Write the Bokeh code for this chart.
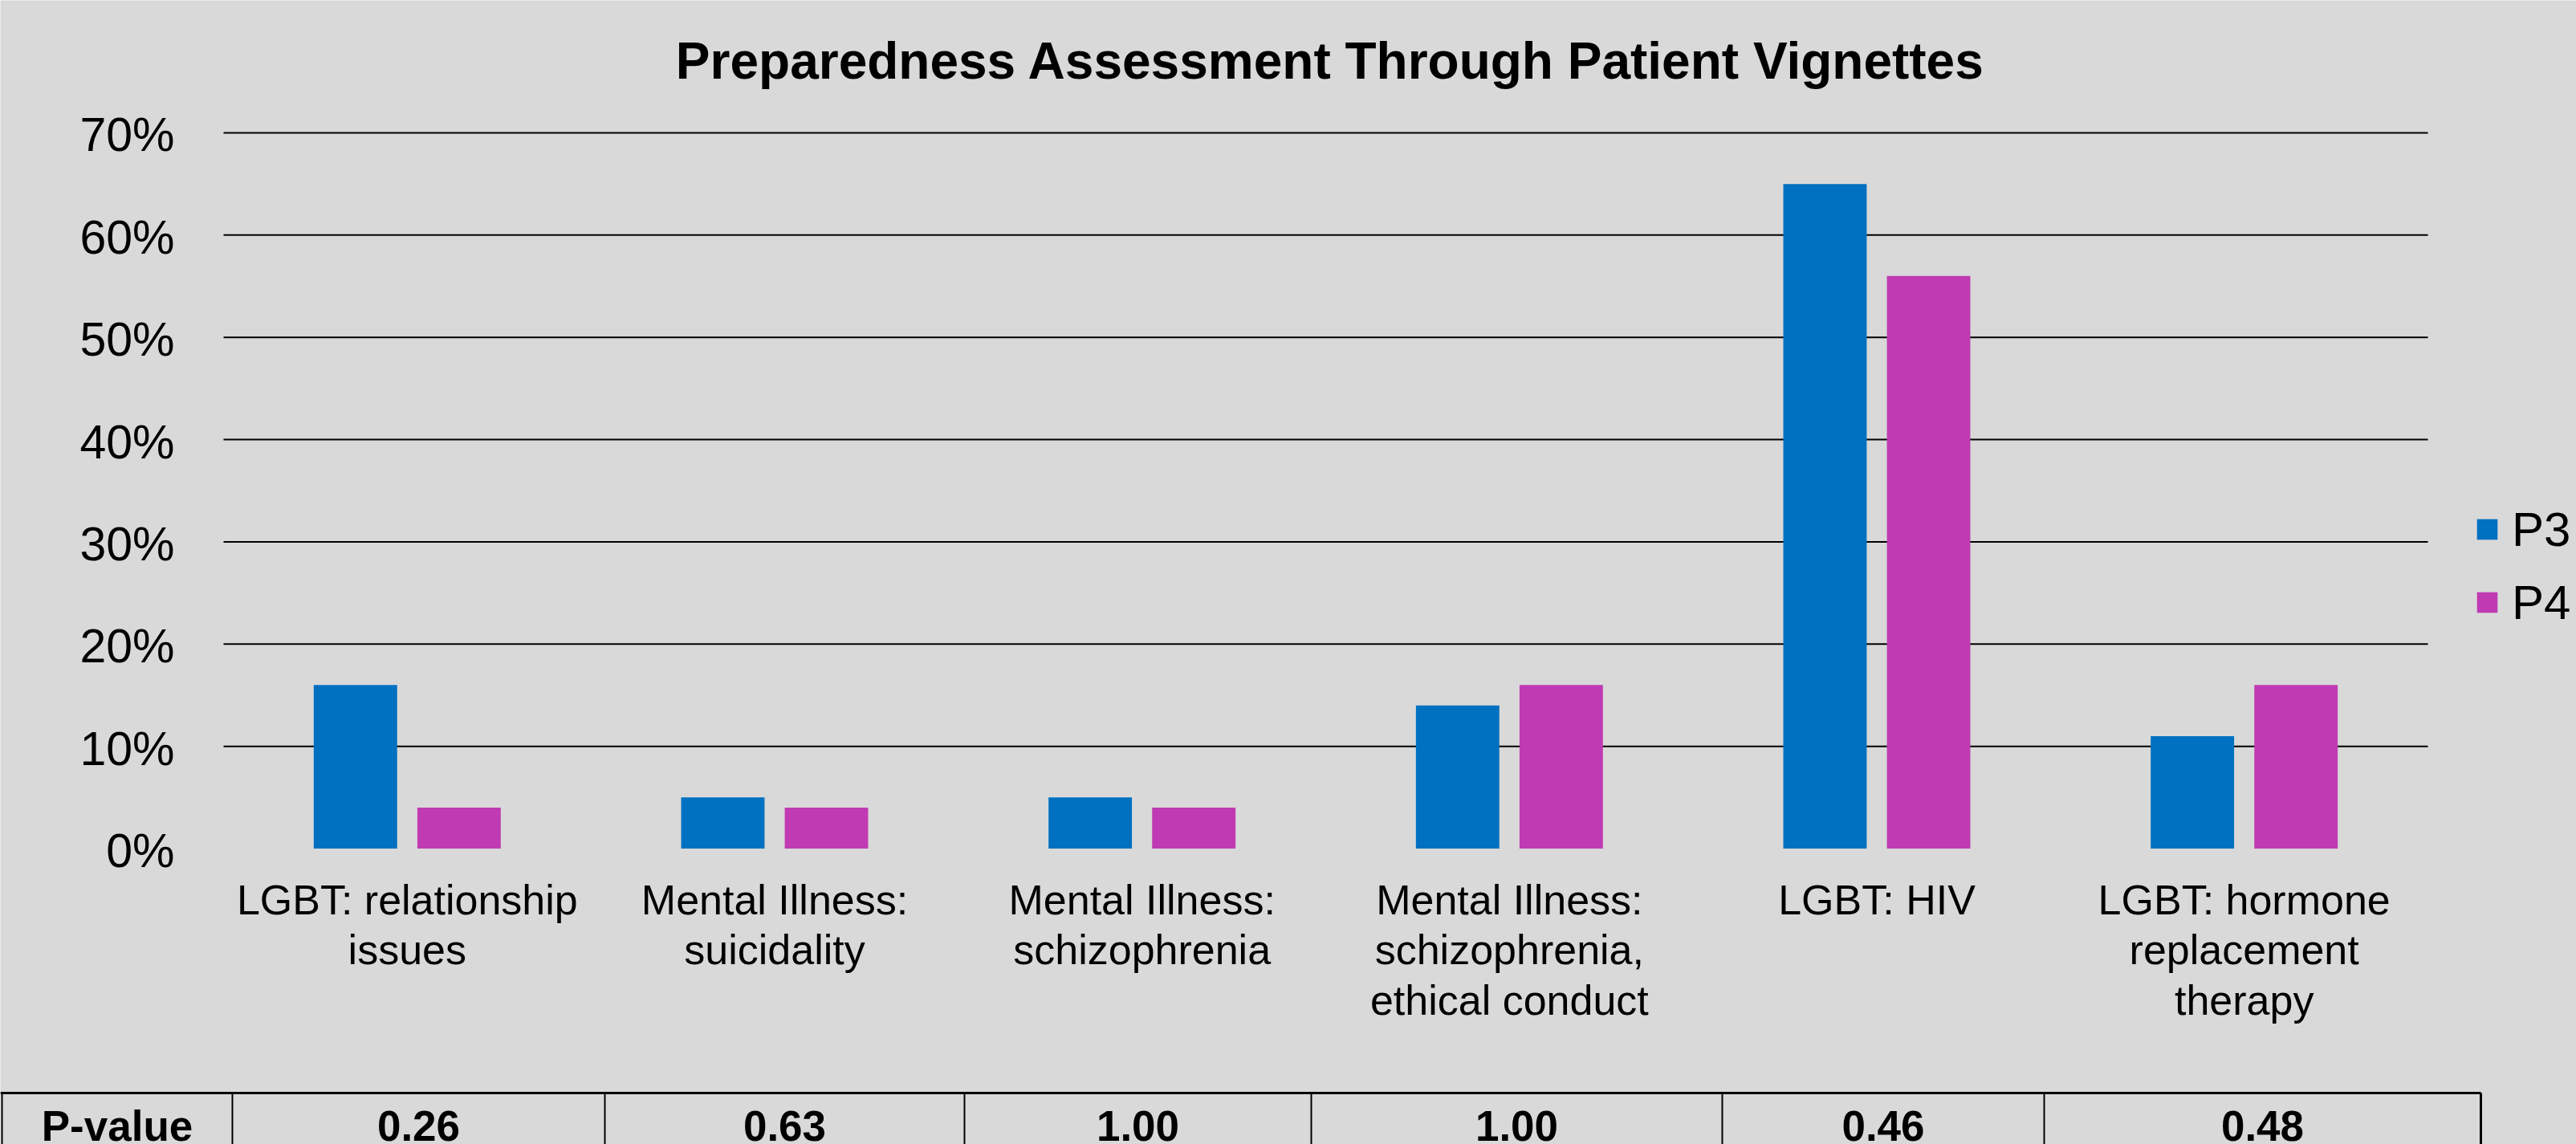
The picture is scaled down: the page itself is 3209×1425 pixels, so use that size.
from bokeh.plotting import figure
from bokeh.models import Range1d, Legend, LegendItem, ColumnDataSource
from bokeh.transform import dodge
from bokeh.embed import file_html
from bokeh.resources import INLINE
from bokeh.core.properties import value

# ---------------- data ----------------
categories = [
    "LGBT: relationship\nissues",
    "Mental Illness:\nsuicidality",
    "Mental Illness:\nschizophrenia",
    "Mental Illness:\nschizophrenia,\nethical conduct",
    "LGBT: HIV",
    "LGBT: hormone\nreplacement\ntherapy",
]
series = ["P3", "P4"]
p3_values = [0.16, 0.05, 0.05, 0.14, 0.65, 0.11]
p4_values = [0.04, 0.04, 0.04, 0.16, 0.56, 0.16]
y_ticks = [0.0, 0.1, 0.2, 0.3, 0.4, 0.5, 0.6, 0.7]
y_tick_labels = ["0%", "10%", "20%", "30%", "40%", "50%", "60%", "70%"]
pvalue_label = "P-value"
pvalues = ["0.26", "0.63", "1.00", "1.00", "0.46", "0.48"]
title_text = "Preparedness Assessment Through Patient Vignettes"

# ---------------- style / layout ----------------
BG = "#D9D9D9"
C_P3 = "#0070C0"
C_P4 = "#BF3AB3"
FONT = "Liberation Sans"
W, H = 3209, 1425

n = len(categories)
cat_x = [i + 0.5 for i in range(n)]
src = ColumnDataSource(dict(x=cat_x, label=categories, P3=p3_values, P4=p4_values))

p = figure(width=W, height=H, title=None,
           x_range=Range1d(-0.6074, 6.4042), y_range=Range1d(-0.2893, 0.8295),
           output_backend="svg", toolbar_location=None,
           x_axis_location=None, y_axis_location=None,
           min_border=0, background_fill_color=BG, border_fill_color=BG,
           outline_line_color=None)
p.grid.visible = False
# page-pixel ranges for the annotations and the table
p.extra_x_ranges = {"page": Range1d(0, W)}
p.extra_y_ranges = {"page": Range1d(H, 0)}

# gridlines (10%..70%)
p.segment(x0=0, x1=n, y0=y_ticks[1:], y1=y_ticks[1:], line_color="black", line_width=2)

# bars
r1 = p.vbar(x=dodge("x", -0.141), top="P3", width=0.227, source=src,
            fill_color=C_P3, line_color=None)
r2 = p.vbar(x=dodge("x", 0.141), top="P4", width=0.227, source=src,
            fill_color=C_P4, line_color=None)

# y tick labels
p.text(x=217, y=y_ticks, text=y_tick_labels, x_range_name="page",
       text_align="right", text_baseline="middle", y_offset=3,
       text_font=value(FONT), text_font_size="59px", text_color="black")

# category labels
p.text(x="x", y=1091, text="label", source=src, y_range_name="page",
       text_align="center", text_baseline="top", text_line_height=1.08,
       text_font=value(FONT), text_font_size="52px", text_color="black")

# title
p.text(x=[1657], y=[75], text=[title_text], x_range_name="page", y_range_name="page",
       text_align="center", text_baseline="middle",
       text_font=value(FONT), text_font_style="bold", text_font_size="64px",
       text_color="black")

# legend
legend = Legend(items=[LegendItem(label=series[0], renderers=[r1]),
                       LegendItem(label=series[1], renderers=[r2])],
                location=(3082, 640), glyph_width=32, glyph_height=32,
                label_text_font=FONT, label_text_font_size="60px",
                label_text_color="black",
                label_height=70, spacing=21, padding=0, margin=0,
                label_standoff=15, border_line_color=None,
                background_fill_alpha=0)
p.add_layout(legend, "center")

# ---------------- p-value table ----------------
table_edges = [2, 289, 753, 1201, 1633, 2145, 2546, 3090]
table_top = 1361
table_text_mid = 1402
p.segment(x0=[0], y0=[table_top], x1=[table_edges[-1]], y1=[table_top],
          x_range_name="page", y_range_name="page", line_color="black", line_width=3)
p.segment(x0=[table_edges[0]], y0=[table_top], x1=[table_edges[0]], y1=[H],
          x_range_name="page", y_range_name="page", line_color="black", line_width=2)
inner = table_edges[1:-1]
p.segment(x0=inner, y0=table_top, x1=inner, y1=H,
          x_range_name="page", y_range_name="page", line_color="black", line_width=2)
p.segment(x0=[table_edges[-1]], y0=[table_top], x1=[table_edges[-1]], y1=[H],
          x_range_name="page", y_range_name="page", line_color="black", line_width=3)
centers = [(a + b) / 2 for a, b in zip(table_edges[:-1], table_edges[1:])]
p.text(x=centers, y=table_text_mid, text=[pvalue_label] + pvalues,
       x_range_name="page", y_range_name="page",
       text_align="center", text_baseline="middle",
       text_font=value(FONT), text_font_style="bold", text_font_size="53px",
       text_color="black")

html = file_html(p, INLINE)
html = html.replace("<body>", '<body style="background-color:#D9D9D9;">', 1)
open("out.html", "w").write(html)
